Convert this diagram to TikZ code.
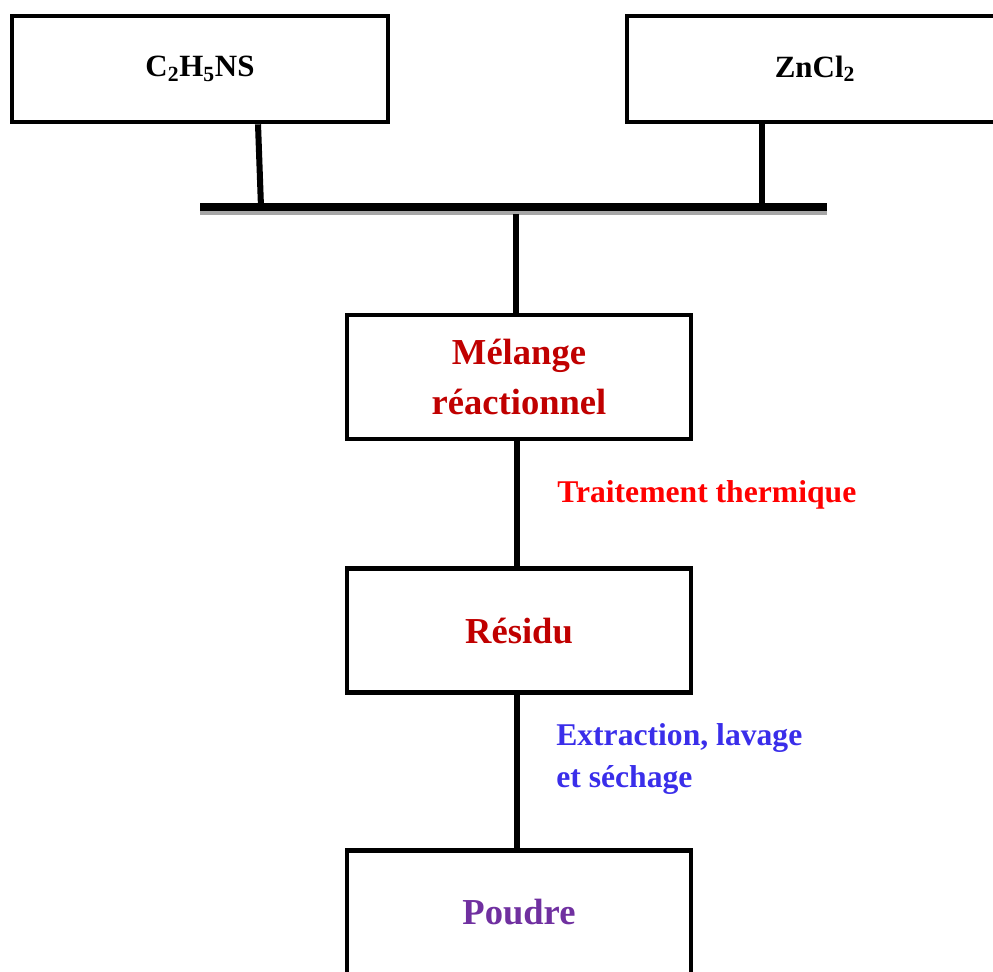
\documentclass[tikz,border=0pt]{standalone}
\usepackage{fontspec}
\setmainfont{Liberation Serif}
\usepackage{tikz}
\usetikzlibrary{positioning}
\definecolor{melred}{HTML}{C00000}
\definecolor{heatred}{HTML}{FF0000}
\definecolor{washblue}{HTML}{3A2EEA}
\definecolor{powderpurple}{HTML}{7030A0}

\begin{document}
\begin{tikzpicture}[x=0.025cm,y=-0.025cm]
		\tikzstyle{box}=[rectangle, draw=black, line width=3.3pt, minimum width=8.6cm, minimum height=3.1cm, align=center, font=\bfseries\fontsize{26}{35.6}\selectfont]
		\tikzstyle{topbox}=[box, minimum width=9.4cm, minimum height=2.65cm, font=\bfseries\fontsize{22}{26}\selectfont]
		\tikzstyle{connect}=[line width=4.3pt]
		\tikzstyle{note}=[align=left, inner sep=0pt, font=\bfseries\fontsize{22.5}{29.8}\selectfont]
		\useasboundingbox (0,0) rectangle (993,972);
		\clip (0,0) rectangle (993,972);
		
		\node[topbox] (thio) at (200,69) {C\textsubscript{2}H\textsubscript{5}NS};
		\node[topbox] (zinc) at (815,69) {ZnCl\textsubscript{2}};
		
		\node[box, text=melred] (mel) at (519,377) {Mélange\\réactionnel};
		\node[box, text=melred] (res) [below=3.125cm of mel] {Résidu};
		\node[box, text=powderpurple] (pou) [below=3.825cm of res] {Poudre};
		
		% collecting bar
		\coordinate (barL) at (200,207);
		\coordinate (barR) at (827,207);
		\coordinate (jL) at (261,207);
		\coordinate (jR) at (762,207);
		\coordinate (jM) at (516,214);
		\draw[line width=5.7pt, black!35] ([yshift=-0.1cm]barL) -- ([yshift=-0.1cm]barR);
		\draw[line width=5.7pt] (barL) -- (barR);
		
		\path ([xshift=1.45cm]thio.south) edge [connect] (jL);
		\path (zinc.south -| jR) edge [connect] (jR);
		\path (jM) edge [connect] (jM |- mel.north);
		
		\path ([xshift=-0.05cm]mel.south) edge [connect] ([xshift=-0.05cm]res.north);
		\path ([xshift=-0.05cm]res.south) edge [connect] ([xshift=-0.05cm]pou.north);
		
		\node[note, text=heatred, anchor=west] (heat) at (557,495) {Traitement thermique};
		\node[note, text=washblue, anchor=north west] (wash) at (556,723) {Extraction, lavage\\et séchage};
	\end{tikzpicture}
\end{document}
